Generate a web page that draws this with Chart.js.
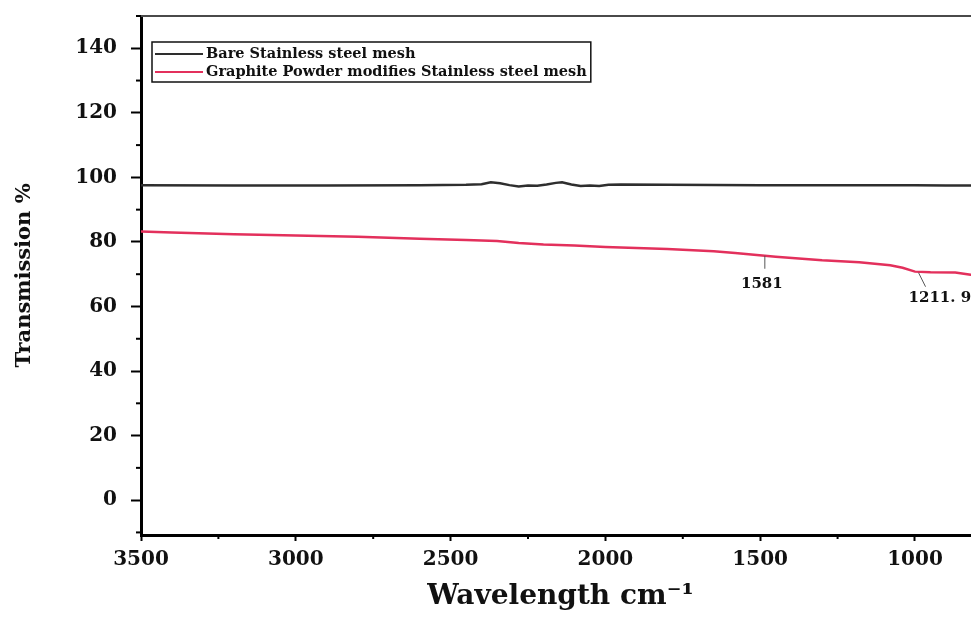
<!DOCTYPE html>
<html>
<head>
<meta charset="utf-8">
<script src="https://cdn.jsdelivr.net/npm/chart.js@4.4.1/dist/chart.umd.min.js"></script>
<style>
  html, body { margin: 0; padding: 0; background: #fff; overflow: hidden; }
  #wrap { width: 990px; height: 630px; }
</style>
</head>
<body>
<div id="wrap"><canvas id="ftir" width="990" height="630"></canvas></div>
<script>
const bareWave = [3500, 3200, 2900, 2600, 2450, 2400, 2370, 2340, 2310, 2280, 2250, 2220, 2190, 2160, 2140, 2110, 2080, 2050, 2020, 1990, 1950, 1800, 1500, 1200, 1000, 900, 790];
const bareTrans = [97.6, 97.5, 97.5, 97.6, 97.7, 97.9, 98.5, 98.2, 97.6, 97.2, 97.5, 97.4, 97.8, 98.3, 98.5, 97.8, 97.3, 97.5, 97.3, 97.7, 97.8, 97.7, 97.6, 97.6, 97.6, 97.5, 97.5];

const graphiteWave = [3500, 3400, 3200, 3000, 2800, 2600, 2450, 2350, 2280, 2200, 2100, 2000, 1800, 1650, 1581, 1450, 1300, 1180, 1080, 1040, 1000, 950, 870, 820, 790];
const graphiteTrans = [83.2, 82.9, 82.4, 82.0, 81.6, 81.0, 80.6, 80.3, 79.7, 79.2, 78.9, 78.4, 77.8, 77.1, 76.6, 75.4, 74.3, 73.7, 72.8, 72.0, 70.8, 70.6, 70.5, 69.8, 69.4];

const seriesLabels = ['Bare Stainless steel mesh', 'Graphite Powder modifies Stainless steel mesh'];
const xTicks = [3500, 3000, 2500, 2000, 1500, 1000];
const yTicks = [0, 20, 40, 60, 80, 100, 120, 140];

// Etiquetas de picos sobre la curva de grafito
const peakLabels = ['1581', '1211. 9'];
const peakWave = [1485, 995];

const FONT = "'DejaVu Serif', 'Liberation Serif', serif";

function interpGraphite(w) {
    for (let i = 0; i < graphiteWave.length - 1; i++) {
        const a = graphiteWave[i], b = graphiteWave[i + 1];
        if (w <= a && w >= b) {
            const t = (a - w) / (a - b);
            return graphiteTrans[i] + t * (graphiteTrans[i + 1] - graphiteTrans[i]);
        }
    }
    return graphiteTrans[graphiteTrans.length - 1];
}

const decorPlugin = {
    id: 'decor',
    afterDraw(chart) {
        const { ctx, chartArea: area, scales: { x, y } } = chart;
        ctx.save();

        // borde superior
        ctx.strokeStyle = '#4a4a4a';
        ctx.lineWidth = 2;
        ctx.beginPath();
        ctx.moveTo(area.left, area.top);
        ctx.lineTo(area.right, area.top);
        ctx.stroke();

        // marcas menores
        ctx.strokeStyle = '#000';
        ctx.lineWidth = 2;
        xTicks.forEach(v => {
            const m = v - 250;
            if (m >= x.min && m <= x.max) {
                const px = x.getPixelForValue(m);
                ctx.beginPath();
                ctx.moveTo(px, area.bottom);
                ctx.lineTo(px, area.bottom + 4);
                ctx.stroke();
            }
        });
        [-10].concat(yTicks.map(v => v + 10)).forEach(v => {
            if (v >= y.min && v <= y.max) {
                const py = y.getPixelForValue(v);
                ctx.beginPath();
                ctx.moveTo(area.left, py);
                ctx.lineTo(area.left - 5, py);
                ctx.stroke();
            }
        });

        // leyenda
        ctx.font = `bold 14.5px ${FONT}`;
        ctx.textBaseline = 'middle';
        const lx = area.left + 11, ly = area.top + 26;
        let maxW = 0;
        chart.data.datasets.forEach(ds => { maxW = Math.max(maxW, ctx.measureText(ds.label).width); });
        ctx.strokeStyle = '#111';
        ctx.lineWidth = 1.5;
        ctx.strokeRect(lx, ly, 52 + maxW + 6, 40);
        chart.data.datasets.forEach((ds, i) => {
            const yy = ly + 12 + i * 18;
            ctx.strokeStyle = ds.borderColor;
            ctx.lineWidth = 2;
            ctx.beginPath();
            ctx.moveTo(lx + 3, yy);
            ctx.lineTo(lx + 51, yy);
            ctx.stroke();
            ctx.fillStyle = '#111';
            ctx.fillText(ds.label, lx + 54, yy);
        });

        // anotaciones de picos
        ctx.font = `bold 15px ${FONT}`;
        ctx.fillStyle = '#111';
        ctx.strokeStyle = '#555';
        ctx.lineWidth = 1;
        peakLabels.forEach((lab, i) => {
            const px = x.getPixelForValue(peakWave[i]);
            const py = y.getPixelForValue(interpGraphite(peakWave[i]));
            ctx.beginPath();
            if (i === 0) {
                ctx.moveTo(px, py);
                ctx.lineTo(px, py + 13);
                ctx.stroke();
                ctx.textAlign = 'center';
                ctx.fillText(lab, px - 3, py + 28);
            } else {
                ctx.moveTo(px + 2, py + 1);
                ctx.lineTo(px + 9, py + 15);
                ctx.stroke();
                ctx.textAlign = 'left';
                ctx.fillText(lab, px - 8, py + 26);
            }
        });

        ctx.restore();
    }
};

const ctx = document.getElementById('ftir').getContext('2d');
new Chart(ctx, {
    type: 'line',
    data: {
        datasets: [{
            label: seriesLabels[0],
            data: bareWave.map((w, i) => ({ x: w, y: bareTrans[i] })),
            borderColor: '#2e2e2e',
            borderWidth: 2.5,
            pointRadius: 0,
            tension: 0
        }, {
            label: seriesLabels[1],
            data: graphiteWave.map((w, i) => ({ x: w, y: graphiteTrans[i] })),
            borderColor: '#e3305c',
            borderWidth: 2.5,
            pointRadius: 0,
            tension: 0
        }]
    },
    options: {
        responsive: false,
        animation: false,
        devicePixelRatio: 1,
        layout: { padding: { top: 16, right: 10, left: 0, bottom: 0 } },
        plugins: {
            legend: { display: false },
            tooltip: { enabled: false }
        },
        scales: {
            x: {
                type: 'linear',
                reverse: true,
                min: 790,
                max: 3500,
                afterBuildTicks: s => { s.ticks = xTicks.map(v => ({ value: v })); },
                afterFit: s => { s.height = 95; s.paddingLeft = 0; s.paddingRight = 0; },
                grid: { drawOnChartArea: false, drawTicks: true, tickLength: 6, tickColor: '#000', tickWidth: 2 },
                border: { display: true, color: '#000', width: 3 },
                ticks: {
                    callback: v => String(v),
                    color: '#111',
                    padding: 7,
                    maxRotation: 0,
                    font: { family: FONT, size: 20, weight: 'bold' }
                },
                title: {
                    display: true,
                    text: 'Wavelength cm⁻¹',
                    color: '#111',
                    font: { family: FONT, size: 28, weight: 'bold' },
                    padding: { top: 0, bottom: 16 }
                }
            },
            y: {
                min: -10.8,
                max: 150,
                afterBuildTicks: s => { s.ticks = yTicks.map(v => ({ value: v })); },
                afterFit: s => { s.width = 141; s.paddingTop = 0; s.paddingBottom = 0; },
                grid: { drawOnChartArea: false, drawTicks: true, tickLength: 10, tickColor: '#000', tickWidth: 2 },
                border: { display: true, color: '#000', width: 3 },
                ticks: {
                    callback: v => String(v),
                    color: '#111',
                    padding: 14,
                    font: { family: FONT, size: 20, weight: 'bold' }
                },
                title: {
                    display: true,
                    text: 'Transmission %',
                    color: '#111',
                    font: { family: FONT, size: 21, weight: 'bold' },
                    padding: { top: 12, bottom: 0 }
                }
            }
        }
    },
    plugins: [decorPlugin]
});
</script>
</body>
</html>
